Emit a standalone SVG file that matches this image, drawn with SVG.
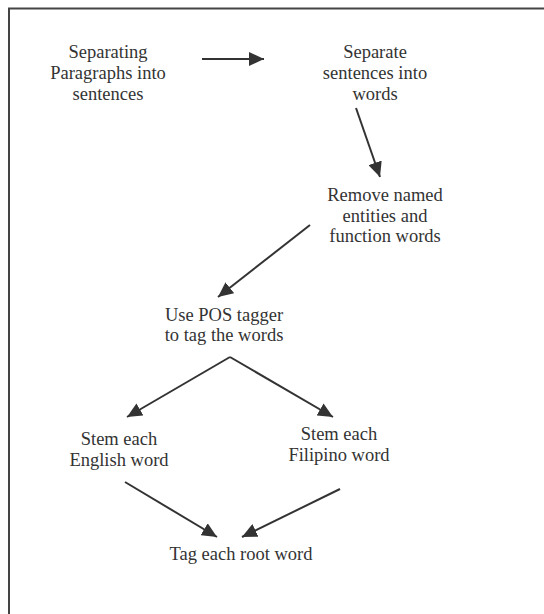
<svg xmlns="http://www.w3.org/2000/svg" width="544" height="614" viewBox="0 0 544 614">
<style>
text{font-family:"Liberation Serif","Times New Roman",serif;font-size:18.5px;fill:#333;text-anchor:middle}
.c{stroke:#333;stroke-width:2;fill:none}
</style>
<defs>
<marker id="a" viewBox="0 0 15 14" refX="15" refY="7" markerWidth="15" markerHeight="14" orient="auto" markerUnits="userSpaceOnUse"><path d="M0,0 L15,7 L0,14 z" fill="#333"/></marker>
</defs>
<rect width="544" height="614" fill="#fff"/>
<path d="M9,614 V8.5 H544" fill="none" stroke="#444" stroke-width="2"/>
<g id="n1"><text x="108" y="58">Separating</text><text x="108" y="79">Paragraphs into</text><text x="108" y="99.5">sentences</text></g>
<g id="n2"><text x="375" y="58">Separate</text><text x="375" y="79">sentences into</text><text x="375" y="99.5">words</text></g>
<g id="n3"><text x="385" y="201">Remove named</text><text x="385" y="221.5">entities and</text><text x="385" y="242">function words</text></g>
<g id="n4"><text x="224" y="320.5">Use POS tagger</text><text x="224" y="341">to tag the words</text></g>
<g id="n5"><text x="119" y="445">Stem each</text><text x="119" y="465.5">English word</text></g>
<g id="n6"><text x="339" y="440">Stem each</text><text x="339" y="460.5">Filipino word</text></g>
<g id="n7"><text x="241" y="560">Tag each root word</text></g>
<g id="connectors" class="c">
<line x1="202" y1="59" x2="264" y2="59" marker-end="url(#a)"/>
<line x1="356" y1="108" x2="380" y2="177" marker-end="url(#a)"/>
<line x1="310" y1="225" x2="218" y2="297" marker-end="url(#a)"/>
<line x1="230" y1="357" x2="127" y2="417" marker-end="url(#a)"/>
<line x1="230" y1="357" x2="333" y2="417" marker-end="url(#a)"/>
<line x1="125" y1="482" x2="217" y2="537" marker-end="url(#a)"/>
<line x1="340" y1="489" x2="242" y2="537" marker-end="url(#a)"/>
</g>
</svg>
